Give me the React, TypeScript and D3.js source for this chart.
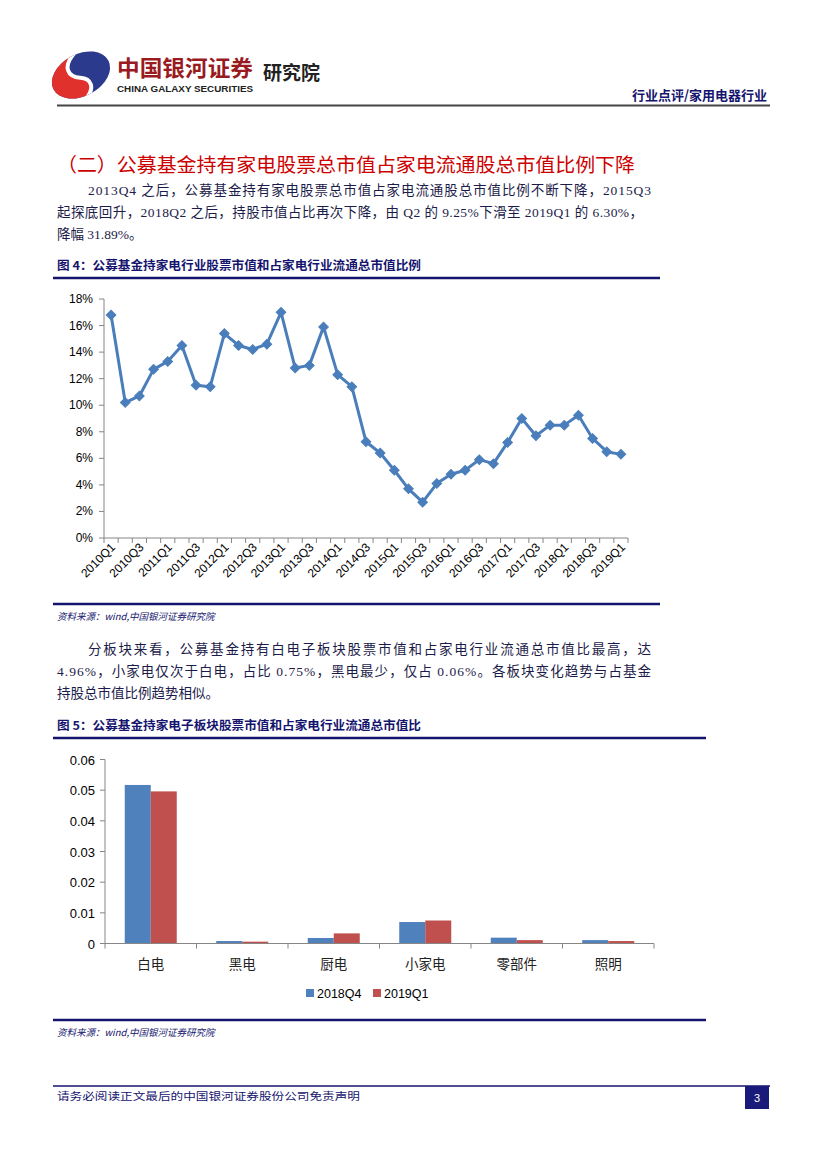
import React from "react";
import * as d3 from "d3";

// ---------- Data ----------
const quarters = [
  "2010Q1","2010Q2","2010Q3","2010Q4","2011Q1","2011Q2","2011Q3","2011Q4",
  "2012Q1","2012Q2","2012Q3","2012Q4","2013Q1","2013Q2","2013Q3","2013Q4",
  "2014Q1","2014Q2","2014Q3","2014Q4","2015Q1","2015Q2","2015Q3","2015Q4",
  "2016Q1","2016Q2","2016Q3","2016Q4","2017Q1","2017Q2","2017Q3","2017Q4",
  "2018Q1","2018Q2","2018Q3","2018Q4","2019Q1",
];
const ratioValues = [
  0.168, 0.102, 0.107, 0.127, 0.133, 0.145, 0.115, 0.114,
  0.154, 0.145, 0.142, 0.146, 0.170, 0.128, 0.130, 0.159,
  0.123, 0.114, 0.0725, 0.064, 0.051, 0.037, 0.027, 0.041,
  0.048, 0.051, 0.059, 0.056, 0.072, 0.090, 0.077, 0.085,
  0.085, 0.0925, 0.075, 0.065, 0.063,
];
const lineYTicks = [0, 0.02, 0.04, 0.06, 0.08, 0.1, 0.12, 0.14, 0.16, 0.18];

const sectors = ["白电", "黑电", "厨电", "小家电", "零部件", "照明"];
const seriesNames = ["2018Q4", "2019Q1"];
const values2018Q4 = [0.0517, 0.0008, 0.0018, 0.0070, 0.0019, 0.0011];
const values2019Q1 = [0.0496, 0.0006, 0.0033, 0.0075, 0.0011, 0.0008];
const barYTicks = [0, 0.01, 0.02, 0.03, 0.04, 0.05, 0.06];
const seriesColors = ["#4F81BD", "#C0504D"];

// ---------- Styles ----------
const CJK = "'Noto Sans CJK SC', 'Noto Sans', sans-serif";
const SERIF_MIX = "'Liberation Serif', 'Noto Sans CJK SC', serif";
const SANS = "'Liberation Sans', Arial, sans-serif";
const NAVY = "#14146e";
const TEXTC = "#1c1c4a";
const AXIS = "#868686";

function LineChart() {
  const x = d3.scaleBand<string>().domain(quarters).range([104, 628]);
  const y = d3.scaleLinear().domain([0, 0.18]).range([538, 299]);
  const cx = (q: string) => (x(q) as number) + x.bandwidth() / 2;
  const line = d3
    .line<number>()
    .x((_, i) => cx(quarters[i]))
    .y((d) => y(d));
  const diamond = d3.symbol().type(d3.symbolSquare).size(46)();
  const boundaries = quarters.map((q) => x(q) as number).concat([628]);
  return (
    <g>
      <line x1={104} x2={104} y1={y(0.18)} y2={y(0)} stroke={AXIS} strokeWidth={1} />
      {lineYTicks.map((t) => (
        <g key={t}>
          <line x1={99} x2={104} y1={y(t)} y2={y(t)} stroke={AXIS} />
          <text x={93} y={y(t) + 4} textAnchor="end" fontFamily={SANS} fontSize={12} fill="#000">
            {d3.format(".0%")(t)}
          </text>
        </g>
      ))}
      <line x1={104} x2={628} y1={y(0)} y2={y(0)} stroke={AXIS} strokeWidth={1} />
      {boundaries.map((b, i) => (
        <line key={i} x1={b} x2={b} y1={y(0)} y2={y(0) + 5} stroke={AXIS} />
      ))}
      {quarters.map((q, i) =>
        i % 2 === 0 ? (
          <text
            key={q}
            transform={`translate(${cx(q) + 5},${y(0) + 10}) rotate(-45)`}
            textAnchor="end"
            fontFamily={SANS}
            fontSize={12}
            fill="#000"
          >
            {q}
          </text>
        ) : null
      )}
      <path d={line(ratioValues) as string} fill="none" stroke="#4A7EBB" strokeWidth={3} strokeLinejoin="round" />
      {ratioValues.map((v, i) => (
        <path
          key={i}
          d={diamond as string}
          transform={`translate(${cx(quarters[i])},${y(v)}) rotate(45)`}
          fill="#4A7EBB"
          stroke="#4A7EBB"
          strokeWidth={1}
        />
      ))}
    </g>
  );
}

function BarChart() {
  const x0 = d3.scaleBand<string>().domain(sectors).range([105, 654]);
  const groupW = 52;
  const x1 = d3.scaleBand<string>().domain(seriesNames).range([0, groupW]);
  const y = d3.scaleLinear().domain([0, 0.06]).range([943.5, 759.5]);
  const series = [values2018Q4, values2019Q1];
  const boundaries = sectors.map((s) => x0(s) as number).concat([654]);
  return (
    <g>
      <line x1={105} x2={105} y1={y(0.06)} y2={y(0)} stroke={AXIS} />
      {barYTicks.map((t) => (
        <g key={t}>
          <line x1={100} x2={105} y1={y(t)} y2={y(t)} stroke={AXIS} />
          <text x={95} y={y(t) + 5} textAnchor="end" fontFamily={SANS} fontSize={13} fill="#000">
            {t === 0 ? "0" : d3.format(".2f")(t)}
          </text>
        </g>
      ))}
      {series.map((vals, si) =>
        vals.map((v, ci) => {
          const gx = (x0(sectors[ci]) as number) + x0.bandwidth() / 2 - groupW / 2;
          return (
            <rect
              key={`${si}-${ci}`}
              x={gx + (x1(seriesNames[si]) as number)}
              y={y(v)}
              width={x1.bandwidth()}
              height={y(0) - y(v)}
              fill={seriesColors[si]}
            />
          );
        })
      )}
      <line x1={105} x2={654} y1={y(0)} y2={y(0)} stroke={AXIS} strokeWidth={1.2} />
      {boundaries.map((b, i) => (
        <line key={i} x1={b} x2={b} y1={y(0)} y2={y(0) + 5} stroke={AXIS} />
      ))}
      {sectors.map((s) => (
        <text
          key={s}
          x={(x0(s) as number) + x0.bandwidth() / 2}
          y={969}
          textAnchor="middle"
          fontFamily={CJK}
          fontSize={13.5}
          fill="#222"
        >
          {s}
        </text>
      ))}
      {seriesNames.map((n, i) => (
        <g key={n} transform={`translate(${306 + i * 67},989)`}>
          <rect x={0} y={0} width={8} height={8} fill={seriesColors[i]} />
          <text x={11} y={8.5} fontFamily={SANS} fontSize={12.5} fill="#000">
            {n}
          </text>
        </g>
      ))}
    </g>
  );
}

function Logo() {
  return (
    <g transform="translate(81,75) rotate(-28)">
      <defs>
        <clipPath id="logoClip">
          <ellipse cx={0} cy={0} rx={31} ry={21} />
        </clipPath>
      </defs>
      <g clipPath="url(#logoClip)">
        <rect x={-33} y={-23} width={66} height={46} fill="#2b3a8c" />
        <path d="M -33 -23 L 6 -23 C -14 -16, -12 -4, -2 2 C 8 8, 6 18, -6 23 L -33 23 Z" fill="#e0312c" />
        <path d="M 6 -23 C -14 -16, -12 -4, -2 2 C 8 8, 6 18, -6 23" fill="none" stroke="#fff" strokeWidth={4} />
      </g>
    </g>
  );
}

export default function App() {
  return (
    <svg
      width={827}
      height={1169}
      viewBox="0 0 827 1169"
      style={{ position: "absolute", left: 0, top: 0, background: "#fff" }}
    >
      <rect width={827} height={1169} fill="#fff" />
      {/* Header */}
      <Logo />
      <text x={117} y={76} fontFamily={CJK} fontWeight={700} fontSize={22} fill="#9a1b1f" textLength={136} lengthAdjust="spacingAndGlyphs">
        中国银河证券
      </text>
      <text x={117} y={92} fontFamily={SANS} fontWeight={700} fontSize={9.5} fill="#222" textLength={136} lengthAdjust="spacingAndGlyphs">
        CHINA GALAXY SECURITIES
      </text>
      <text x={263} y={80} fontFamily={CJK} fontWeight={700} fontSize={19} fill="#222" textLength={57} lengthAdjust="spacingAndGlyphs">
        研究院
      </text>
      <text x={767} y={100} textAnchor="end" fontFamily={CJK} fontWeight={700} fontSize={13} fill={NAVY}>
        行业点评/家用电器行业
      </text>
      <line x1={57} x2={770} y1={105.5} y2={105.5} stroke="#444" strokeWidth={2} />

      {/* Section heading */}
      <text x={57} y={172} fontFamily={CJK} fontSize={19.5} fill="#cc0000" textLength={578} lengthAdjust="spacingAndGlyphs">
        （二）公募基金持有家电股票总市值占家电流通股总市值比例下降
      </text>
      <g fontFamily={SERIF_MIX} fontSize={13.5} fill={TEXTC}>
        <text x={88} y={195} textLength={563} lengthAdjust="spacing">
          2013Q4 之后，公募基金持有家电股票总市值占家电流通股总市值比例不断下降，2015Q3
        </text>
        <text x={57} y={217} textLength={586} lengthAdjust="spacing">
          起探底回升，2018Q2 之后，持股市值占比再次下降，由 Q2 的 9.25%下滑至 2019Q1 的 6.30%，
        </text>
        <text x={57} y={239}>降幅 31.89%。</text>
      </g>

      {/* Figure 4 */}
      <text x={57} y={270} fontFamily={CJK} fontWeight={700} fontSize={12} fill={NAVY} textLength={364} lengthAdjust="spacingAndGlyphs">
        图 4：公募基金持家电行业股票市值和占家电行业流通总市值比例
      </text>
      <line x1={53} x2={660} y1={278} y2={278} stroke={NAVY} strokeWidth={2.5} />
      <LineChart />
      <line x1={53} x2={660} y1={604} y2={604} stroke={NAVY} strokeWidth={2.5} />
      <text x={57} y={620} fontFamily={CJK} fontStyle="italic" fontSize={9.5} fill={NAVY}>
        资料来源：wind,中国银河证券研究院
      </text>

      {/* Paragraph 2 */}
      <g fontFamily={SERIF_MIX} fontSize={13.5} fill={TEXTC}>
        <text x={88} y={654} textLength={563} lengthAdjust="spacing">
          分板块来看，公募基金持有白电子板块股票市值和占家电行业流通总市值比最高，达
        </text>
        <text x={57} y={676} textLength={594} lengthAdjust="spacing">
          4.96%，小家电仅次于白电，占比 0.75%，黑电最少，仅占 0.06%。各板块变化趋势与占基金
        </text>
        <text x={57} y={698}>持股总市值比例趋势相似。</text>
      </g>

      {/* Figure 5 */}
      <text x={57} y={730} fontFamily={CJK} fontWeight={700} fontSize={12} fill={NAVY} textLength={364} lengthAdjust="spacingAndGlyphs">
        图 5：公募基金持家电子板块股票市值和占家电行业流通总市值比
      </text>
      <line x1={53} x2={706} y1={738} y2={738} stroke={NAVY} strokeWidth={2.5} />
      <BarChart />
      <line x1={53} x2={706} y1={1020} y2={1020} stroke={NAVY} strokeWidth={2.5} />
      <text x={57} y={1036} fontFamily={CJK} fontStyle="italic" fontSize={9.5} fill={NAVY}>
        资料来源：wind,中国银河证券研究院
      </text>

      {/* Footer */}
      <line x1={53} x2={770} y1={1086} y2={1086} stroke={NAVY} strokeWidth={1.5} />
      <text x={57} y={1100} fontFamily={CJK} fontSize={10.5} fill={NAVY} textLength={303} lengthAdjust="spacingAndGlyphs">
        请务必阅读正文最后的中国银河证券股份公司免责声明
      </text>
      <rect x={745} y={1086} width={24} height={23} fill="#1a1a7a" />
      <text x={757} y={1102} textAnchor="middle" fontFamily={SANS} fontSize={11} fill="#fff">
        3
      </text>
    </svg>
  );
}
